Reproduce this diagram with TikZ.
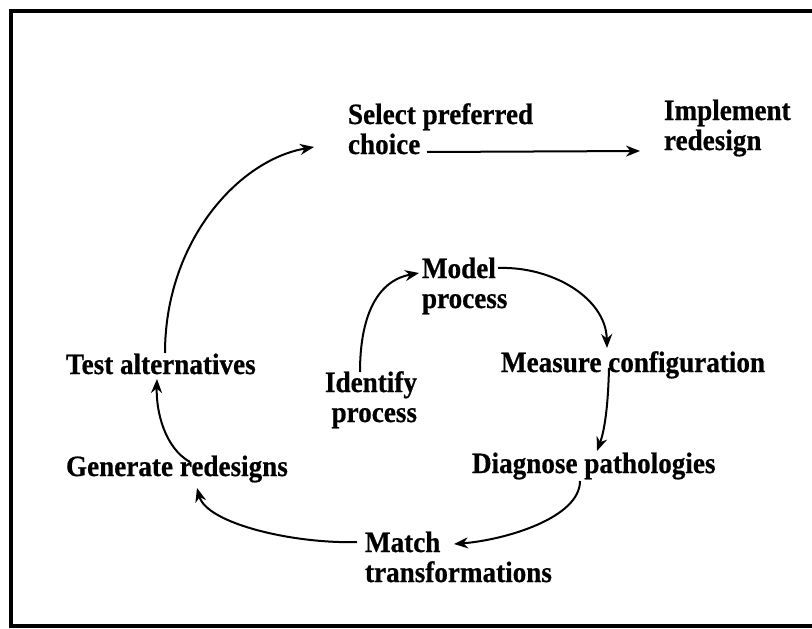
\documentclass[tikz,border=0pt]{standalone}
\usepackage{fontspec}
\setmainfont{Liberation Serif}[BoldFeatures={FakeStretch=0.92,FakeBold=0.6}]
\usetikzlibrary{arrows.meta,calc}
\begin{document}
\begin{tikzpicture}[x=1pt,y=-1pt,
  lbl/.style={inner sep=0pt,outer sep=0pt,font=\fontsize{29.5}{30}\selectfont\bfseries},
  arr/.style={line width=2pt,-{Stealth[length=14pt,width=11pt,inset=4.5pt]}},
  frame/.style={line width=4.5pt}]
\useasboundingbox (0,0) rectangle (812,629);
\draw[frame] (812,11) -- (11,11) -- (11,626) -- (812,626);

\node[lbl,anchor=base west,align=left] (sel) at (348,154) {Select preferred\\choice};
\node[lbl,anchor=base west,align=left] (impl) at (664,150) {Implement\\redesign};
\node[lbl,anchor=base west,align=left] (model) at (422,308) {Model\\process};
\node[lbl,anchor=base west] (meas) at (501,372) {Measure configuration};
\node[lbl,anchor=base east,align=right] (ident) at (417,422) {Identify\\process};
\node[lbl,anchor=base west] (diag) at (472,473) {Diagnose pathologies};
\node[lbl,anchor=base west,align=left] (match) at (365,582) {Match\\transformations};
\node[lbl,anchor=base west] (gen) at (66,476) {Generate redesigns};
\node[lbl,anchor=base west] (test) at (66,374) {Test alternatives};

% Identify -> Model
\draw[arr] ($(ident.base east)+(-57,-50)$) .. controls (360,318) and (376,281) .. ($(model.base west)+(-3,-35)$);
% Model -> Measure
\draw[arr] ($(model.base west)+(76,-40)$) .. controls (552,266) and (606,298) .. ($(meas.base west)+(106,-24)$);
% Measure -> Diagnose
\draw[arr] ($(meas.base west)+(108,-4)$) .. controls (608,410) and (604,432) .. ($(diag.base west)+(125,-22)$);
% Diagnose -> Match
\draw[arr] ($(diag.base west)+(108,8)$) .. controls (580,518) and (505,540) .. ($(match.base west)+(89,-38)$);
% Match -> Generate
\draw[arr] ($(match.base west)+(-8,-40)$) .. controls (295,544) and (207,524) .. ($(gen.base west)+(131,12)$);
% Generate -> Test
\draw[arr] ($(gen.base west)+(124,-14)$) .. controls (165,448) and (156,412) .. ($(test.base west)+(91,5)$);
% Test -> Select
\draw[arr] ($(test.base west)+(99,-21)$) .. controls (165,242) and (238,160) .. ($(sel.base west)+(-34,-7)$);
% Select -> Implement
\draw[arr] ($(sel.base west)+(79,-2)$) -- ($(impl.base west)+(-24,1)$);
\end{tikzpicture}
\end{document}
